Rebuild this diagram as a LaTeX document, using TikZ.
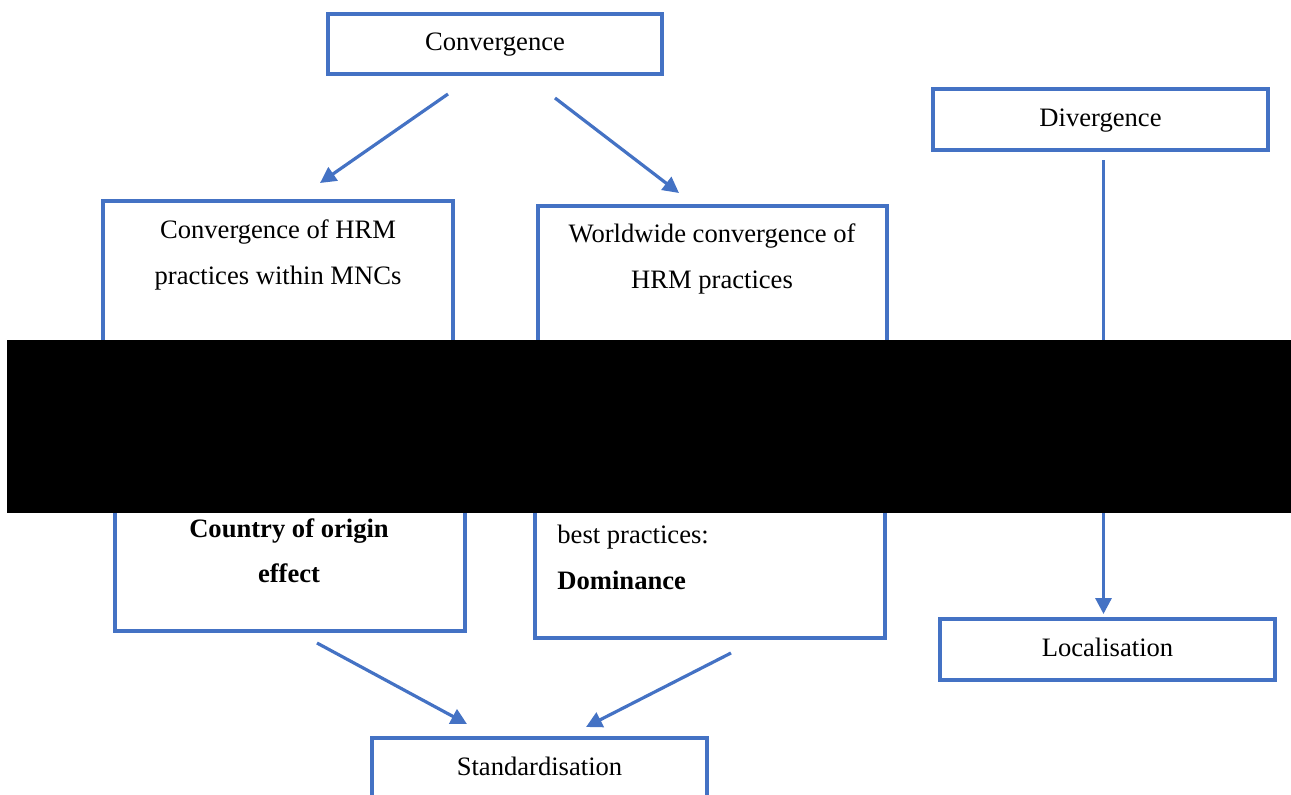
\documentclass[tikz,border=0pt]{standalone}
\usepackage{fontspec}
\setmainfont{Liberation Serif}
\usetikzlibrary{arrows.meta}
\definecolor{wordblue}{HTML}{4472C4}
\tikzset{
  box/.style={draw=wordblue, line width=1.6pt, rectangle, inner sep=0pt,
    font=\fontsize{13.3}{16}\selectfont, text height=0.78em, text depth=0.12em},
  txt/.style={inner sep=0pt, font=\fontsize{13.3}{16}\selectfont},
  conn/.style={draw=wordblue, line width=1.6pt, -{Triangle[length=8pt,width=8pt]}}
}
\begin{document}
\begin{tikzpicture}[x=0.5pt, y=-0.5pt]
\useasboundingbox (0,0) rectangle (1291,794);
\clip (0,0) rectangle (1291,794);

% top-level boxes
\node[box, minimum width=167pt, minimum height=30pt] (conv) at (495,44) {Convergence};
\node[box, minimum width=167.5pt, minimum height=30.5pt] (div) at (1100.5,119.5) {Divergence};
\node[box, minimum width=167.5pt, minimum height=30.5pt] (loc) at (1107.5,649.5) {Localisation};
\node[box, minimum width=167.5pt, minimum height=30.5pt] (std) at (539.5,768.5) {Standardisation};

% tall boxes, upper and lower parts
\node[box, minimum width=175pt, minimum height=99.5pt] (mncTop) at (278,300.5) {};
\node[box, minimum width=175pt, minimum height=95.5pt] (mncBot) at (290,535.5) {};
\node[box, minimum width=174.5pt, minimum height=97pt] (wwTop) at (712.5,303) {};
\node[box, minimum width=175pt, minimum height=99pt] (wwBot) at (710,539) {};

% texts in the tall boxes
\node[txt, anchor=base] (mncA) at (278,238) {Convergence of HRM};
\node[txt, anchor=base] (mncB) at (278,284) {practices within MNCs};
\node[txt, anchor=base] (wwA) at (712,242) {Worldwide convergence of};
\node[txt, anchor=base] (wwB) at (712,288) {HRM practices};
\node[txt, anchor=base] (coeA) at (289,537) {\bfseries Country of origin};
\node[txt, anchor=base] (coeB) at (289,582) {\bfseries effect};
\node[txt, anchor=base west] (bpA) at (557,543) {best practices:};
\node[txt, anchor=base west] (bpB) at (557,589) {\bfseries Dominance};

% connector end points
\coordinate (c1s) at (448,94);   \coordinate (c1e) at (320,183);
\coordinate (c2s) at (555,98);   \coordinate (c2e) at (679,193);
\coordinate (c3s) at (317,643);  \coordinate (c3e) at (467,724);
\coordinate (c4s) at (731,653);  \coordinate (c4e) at (586,727);
\coordinate (c5s) at (1103.5,160); \coordinate (c5e) at (1103.5,614);

\draw[conn] (c1s) -- (c1e);
\draw[conn] (c2s) -- (c2e);
\draw[conn] (c3s) -- (c3e);
\draw[conn] (c4s) -- (c4e);
\draw[conn] (c5s) -- (c5e);

% redaction band
\fill[black] (7,340) rectangle (1291,513);
\end{tikzpicture}
\end{document}
